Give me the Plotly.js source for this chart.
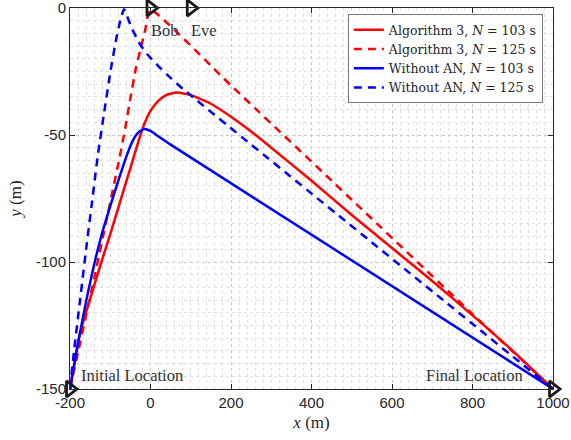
<!DOCTYPE html>
<html>
<head>
<meta charset="utf-8">
<script src="https://cdn.plot.ly/plotly-3.0.1.min.js"></script>
<style>body{margin:0;padding:0;background:#fff;} #chart{width:571px;height:440px;}</style>
</head>
<body>
<div id="chart"></div>
<script>
// Algorithm 3, N = 103 s
const alg103X = [-200,-190,-175,-150,-125,-100,-75,-50,-30,-15,0,20,40,65,100,150,200,250,300,400,500,600,700,800,900,1000];
const alg103Y = [-150,-140.5,-128,-114.5,-101.5,-89,-76,-63,-52.5,-45.5,-40.5,-36.5,-34.2,-33.3,-34.3,-37.7,-42.8,-48.6,-55,-68,-81.5,-94.5,-107.5,-121,-135,-150];
// Algorithm 3, N = 125 s
const alg125X = [-200,-180,-160,-140,-118,-100,-77,-63,-50,-36,-26,-13,-1,200,500,800,1000];
const alg125Y = [-150,-135.5,-121,-106.5,-90,-76.5,-59,-47.5,-35.5,-23.5,-17,-8.5,-0.5,-30.5,-75.5,-120.5,-150];
// Without AN, N = 103 s
const noan103X = [-200,-190,-180,-160,-140,-120,-100,-80,-60,-45,-30,-15,0,20,50,1000];
const noan103Y = [-150,-141,-132,-115.5,-101,-88.5,-78,-68,-58.5,-52.5,-49,-47.6,-48.4,-50.6,-53.8,-150];
// Without AN, N = 125 s
const noan125X = [-200,-190,-175,-160,-145,-130,-115,-100,-85,-75,-66,-47,-26,-8,20,50,80,1000];
const noan125Y = [-150,-135,-115,-95,-76,-57,-41,-25.5,-12,-5,-0.5,-7.8,-14.3,-18.2,-23,-27.5,-31.8,-150];
// Markers
const markX = [-200, 1000, 0, 100];
const markY = [-150, -150, 0, 0];
// Labels
const labelText = ['Bob', 'Eve', 'Initial Location', 'Final Location'];
const labelX = [-4, 96, -178, 680];
const labelY = [-9, -9, -144.5, -144.5];

const serif = 'Liberation Serif, DejaVu Serif, serif';
const sans = 'Liberation Sans, Arial, sans-serif';
const RED = '#ff0000', BLUE = '#0000ff';

const traces = [
  {x: alg103X, y: alg103Y, mode: 'lines', name: 'Algorithm 3, <i>N</i> = 103 s',
   line: {color: RED, width: 2.5, shape: 'spline', smoothing: 0.5}},
  {x: alg125X, y: alg125Y, mode: 'lines', name: 'Algorithm 3, <i>N</i> = 125 s',
   line: {color: RED, width: 2.5, dash: '8px,6px', shape: 'spline', smoothing: 0.4}},
  {x: noan103X, y: noan103Y, mode: 'lines', name: 'Without AN, <i>N</i> = 103 s',
   line: {color: BLUE, width: 2.5, shape: 'spline', smoothing: 0.5}},
  {x: noan125X, y: noan125Y, mode: 'lines', name: 'Without AN, <i>N</i> = 125 s',
   line: {color: BLUE, width: 2.5, dash: '8px,6px', shape: 'spline', smoothing: 0.4}},
  {x: markX, y: markY, mode: 'markers', showlegend: false, cliponaxis: false,
   marker: {symbol: 'triangle-right-open', size: 14, color: '#1a1a1a', line: {width: 2.8, color: '#1a1a1a'}}}
];

const annotations = labelText.map((t, i) => ({
  x: labelX[i], y: labelY[i], text: t, showarrow: false, xanchor: 'left', yanchor: 'middle',
  font: {family: serif, size: 16.5, color: '#333333'}
}));

const axisCommon = {
  showline: true, linecolor: '#262626', linewidth: 1, mirror: 'ticks',
  ticks: 'inside', ticklen: 5, tickcolor: '#262626', ticklabeloverflow: 'allow',
  showgrid: true, gridcolor: '#c8c8c8', griddash: 'dot', gridwidth: 1,
  zeroline: false, tickfont: {family: sans, size: 15, color: '#262626'}
};

const layout = {
  width: 571, height: 440,
  margin: {l: 70, r: 18, t: 8, b: 51},
  paper_bgcolor: '#ffffff', plot_bgcolor: '#ffffff',
  showlegend: true,
  legend: {x: 0.979, y: 0.984, xanchor: 'right', yanchor: 'top',
    bgcolor: '#ffffff', bordercolor: '#777777', borderwidth: 1,
    font: {family: 'DejaVu Serif, serif', size: 12.5, color: '#262626'}, tracegroupgap: 0, itemwidth: 30},
  xaxis: Object.assign({}, axisCommon, {
    range: [-200, 1000], tickmode: 'array', tickvals: [-200,0,200,400,600,800,1000],
    ticktext: ['-200','0','200','400','600','800','1000'],
    minor: {dtick: 20, showgrid: true, gridcolor: '#e0e0e0', griddash: 'dot', gridwidth: 1, ticks: ''},
    title: {text: '<i>x</i> (m)', font: {family: serif, size: 17, color: '#262626'}, standoff: 6}
  }),
  yaxis: Object.assign({}, axisCommon, {
    range: [-150, 0], tickmode: 'array', tickvals: [-150,-100,-50,0],
    ticktext: ['-150','-100','-50','0'],
    minor: {dtick: 5, showgrid: true, gridcolor: '#e0e0e0', griddash: 'dot', gridwidth: 1, ticks: ''},
    title: {text: '<i>y</i> (m)', font: {family: serif, size: 17, color: '#262626'}, standoff: 10}
  }),
  annotations: annotations
};

Plotly.newPlot('chart', traces, layout, {displayModeBar: false, staticPlot: true});
</script>
</body>
</html>
